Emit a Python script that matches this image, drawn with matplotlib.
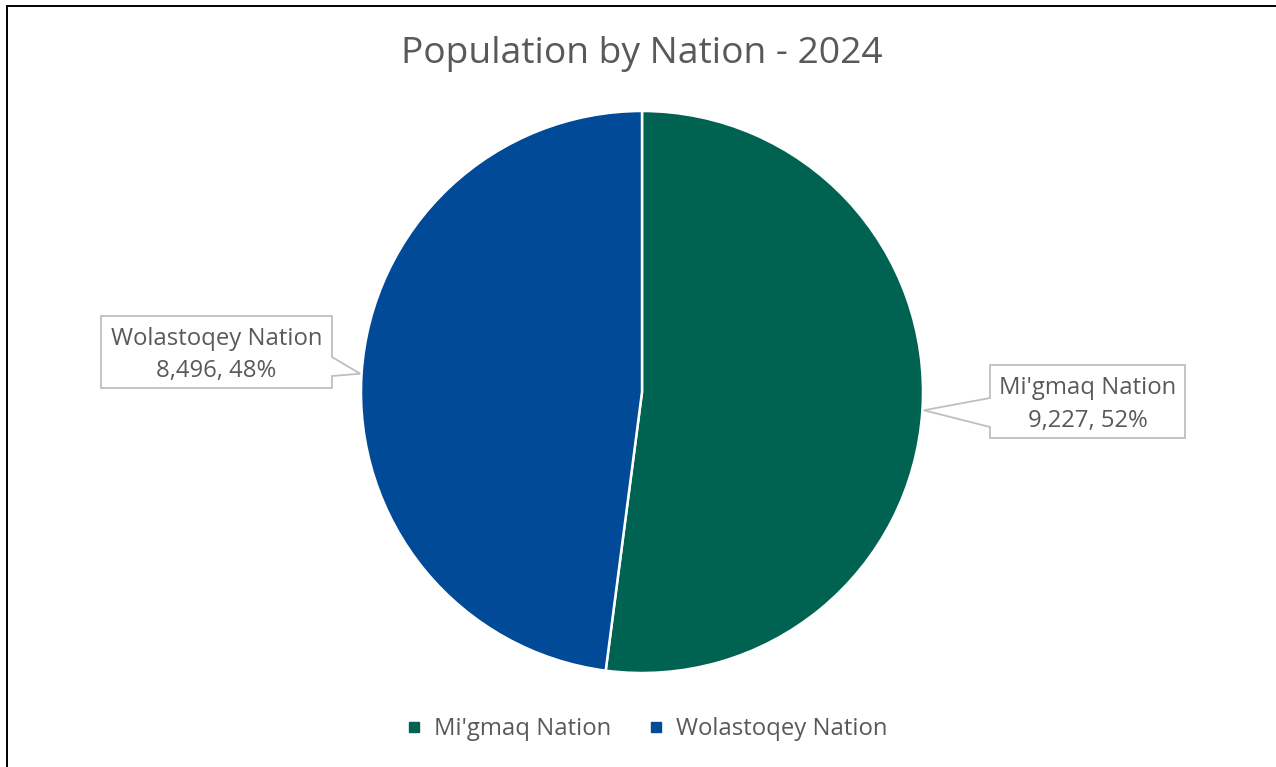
import matplotlib
matplotlib.use("Agg")
import matplotlib.pyplot as plt
from matplotlib.patches import Polygon
from matplotlib.lines import Line2D
import numpy as np

# Population data
nations = ["Mi'gmaq Nation", "Wolastoqey Nation"]
population = [9227, 8496]
colors = ["#006251", "#004A98"]
title = "Population by Nation - 2024"

plt.rcParams["font.family"] = ["Open Sans", "DejaVu Sans"]
TEXT = "#595959"
EDGE = "#BFBFBF"

W, H = 1276, 767
fig = plt.figure(figsize=(W / 100, H / 100), dpi=100)
fig.patch.set_facecolor("white")

# pie axes: centre (642, 392) px, radius 281 px
cx, cy, R = 642, 392, 281
ax = fig.add_axes([(cx - R) / W, (H - cy - R) / H, 2 * R / W, 2 * R / H])

wedges, _ = ax.pie(population, colors=colors, startangle=90, counterclock=False,
                   radius=1, wedgeprops=dict(edgecolor="white", linewidth=1.8))
ax.set_aspect("auto")
ax.set_xlim(-1, 1)
ax.set_ylim(-1, 1)
ax.axis("off")

def px(x, y):
    """pixel position -> pie data units"""
    return ((x - cx) / R, (cy - y) / R)

total = sum(population)
# callout boxes (pixel extents) and pointer base on the side facing the pie
boxes = [
    dict(box=(990, 365, 1185, 438), side="left", base=(398, 427)),
    dict(box=(101, 316, 332, 388), side="right", base=(357, 376)),
]
for w, name, val, b in zip(wedges, nations, population, boxes):
    mid = np.deg2rad((w.theta1 + w.theta2) / 2)
    tip = (1.005 * np.cos(mid), 1.005 * np.sin(mid))
    x0, y0, x1, y1 = b["box"]
    ba, bb = b["base"]
    if b["side"] == "left":
        pts = [px(x0, y0), px(x1, y0), px(x1, y1), px(x0, y1), px(x0, bb), tip, px(x0, ba)]
    else:
        pts = [px(x0, y0), px(x1, y0), px(x1, ba), tip, px(x1, bb), px(x1, y1), px(x0, y1)]
    ax.add_patch(Polygon(pts, closed=True, facecolor="white", edgecolor=EDGE,
                         linewidth=1.3, clip_on=False, zorder=5))
    xc = (x0 + x1) / 2
    ym = (y0 + y1) / 2 + 3
    ax.text(*px(xc, ym - 16), name, ha="center", va="center", fontsize=17.2,
            color=TEXT, zorder=6, clip_on=False)
    ax.text(*px(xc, ym + 16), f"{val:,}, {val / total:.0%}", ha="center", va="center",
            fontsize=17.2, color=TEXT, zorder=6, clip_on=False)

fig.text(642 / W, 1 - 54 / H, title, ha="center", va="center", fontsize=26.8, color=TEXT)

handles = [Line2D([], [], marker="s", linestyle="none", markersize=7.5,
                  markerfacecolor=c, markeredgecolor=c) for c in colors]
leg = fig.legend(handles, nations, loc="center", bbox_to_anchor=(647 / W, 1 - 729 / H),
                 ncol=2, frameon=False, fontsize=17.2, handlelength=0.6,
                 handletextpad=0.53, columnspacing=1.58)
for t in leg.get_texts():
    t.set_color(TEXT)

# chart frame (left and top edges)
fig.add_artist(Line2D([6.5 / W, 6.5 / W], [0, 1 - 5.5 / H], color="black", linewidth=1.4))
fig.add_artist(Line2D([6.5 / W, 1], [1 - 5.5 / H, 1 - 5.5 / H], color="black", linewidth=1.4))

fig.savefig("out.png", dpi=100, facecolor="white")
